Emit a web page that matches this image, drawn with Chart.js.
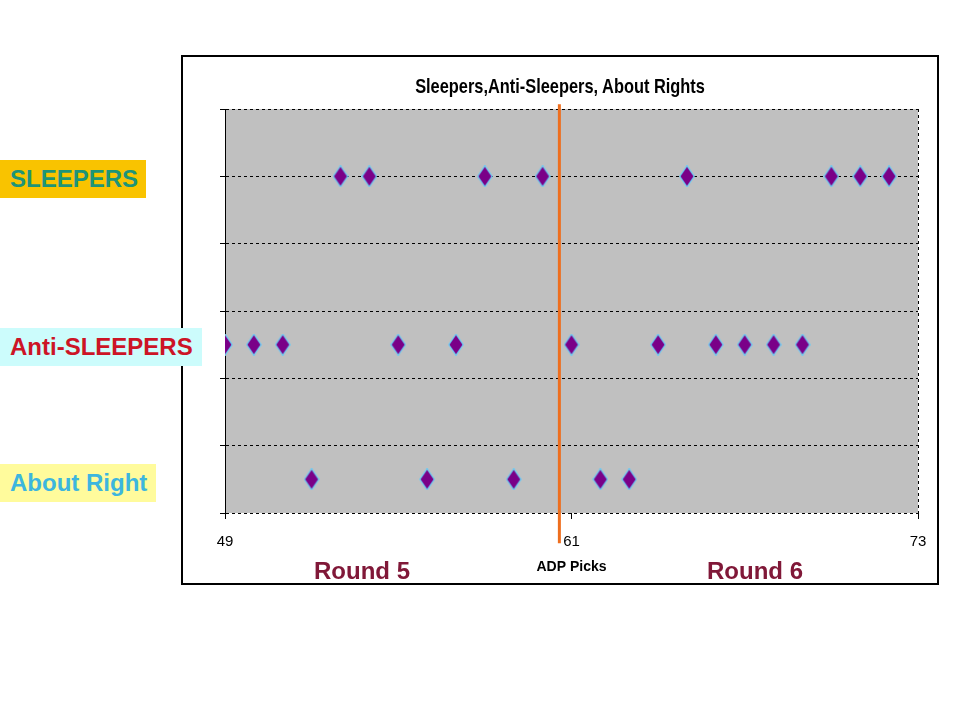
<!DOCTYPE html>
<html lang="en">
<head>
<meta charset="UTF-8">
<title>Sleepers, Anti-Sleepers, About Rights</title>
<script src="https://cdn.jsdelivr.net/npm/chart.js@4.4.1/dist/chart.umd.min.js"></script>
<style>
  body { margin: 0; padding: 0; background: #fff; }
  #wrap { position: relative; width: 960px; height: 720px; overflow: hidden; }
  #box { position: absolute; left: 181px; top: 55px; width: 754px; height: 526px; border: 2px solid #000; background: #fff; }
  #chart { position: absolute; left: 0; top: 0; }
  #title { position: absolute; left: 360px; width: 400px; top: 74px; text-align: center; font-family: "Liberation Sans", Arial, sans-serif; font-weight: bold; font-size: 21px; color: #000; transform: scaleX(0.78); transform-origin: 200px 0; white-space: nowrap; }
  .tag { position: absolute; left: 0; height: 38px; line-height: 38px; font-family: "Liberation Sans", Arial, sans-serif; font-weight: bold; font-size: 24px; padding-left: 10px; box-sizing: border-box; }
  .round { position: absolute; top: 557px; font-family: "Liberation Sans", Arial, sans-serif; font-weight: bold; font-size: 24px; color: #801838; }
</style>
</head>
<body>
<div id="wrap">
  <div id="box"></div>
  <canvas id="chart" width="960" height="720"></canvas>
  <div id="title">Sleepers,Anti-Sleepers, About Rights</div>
  <div class="tag" style="top:160px;width:146px;background:#F9C300;color:#1E9478;">SLEEPERS</div>
  <div class="tag" style="top:328px;width:202px;background:#CCFCFC;color:#CC1426;">Anti-SLEEPERS</div>
  <div class="tag" style="top:464px;width:156px;background:#FFFB9C;color:#3DB6DE;">About Right</div>
  <div class="round" style="left:314px;">Round 5</div>
  <div class="round" style="left:707px;">Round 6</div>
</div>
<script>
  // ADP picks per group
  var sleepers = [53, 54, 58, 60, 65, 70, 71, 72];
  var antiSleepers = [49, 50, 51, 55, 57, 61, 64, 66, 67, 68, 69];
  var aboutRight = [52, 56, 59, 62, 63];
  // row height of each group on the hidden y axis
  var rowSleepers = 5, rowAnti = 2.5, rowAbout = 0.5;
  var xTicks = [49, 61, 73];
  // orange divider between round 5 and round 6
  var dividerX = 60.58;
  var dividerY = [6.07, -0.45];

  function diamond() {
    var c = document.createElement('canvas');
    c.width = 16; c.height = 22;
    var g = c.getContext('2d');
    g.beginPath();
    g.moveTo(8, 1.5); g.lineTo(14.5, 11); g.lineTo(8, 20.5); g.lineTo(1.5, 11); g.closePath();
    g.lineWidth = 2.5;
    g.strokeStyle = '#6FCBF2';
    g.stroke();
    g.fillStyle = '#7A0088';
    g.fill();
    return c;
  }
  var marker = diamond();

  function row(xs, y) {
    return xs.map(function (x) { return { x: x, y: y }; });
  }

  var plotBack = {
    id: 'plotBack',
    beforeDraw: function (chart) {
      var a = chart.chartArea, ctx = chart.ctx;
      ctx.save();
      ctx.fillStyle = '#C0C0C0';
      ctx.fillRect(a.left, a.top, a.right - a.left, a.bottom - a.top);
      ctx.restore();
    },
    afterDatasetsDraw: function (chart) {
      var a = chart.chartArea, ctx = chart.ctx;
      ctx.save();
      ctx.strokeStyle = '#000';
      ctx.lineWidth = 1;
      ctx.setLineDash([3, 3]);
      ctx.beginPath();
      ctx.moveTo(Math.round(a.right) + 0.5, a.top);
      ctx.lineTo(Math.round(a.right) + 0.5, a.bottom);
      ctx.stroke();
      ctx.restore();
    }
  };

  var sans = '"Liberation Sans", Arial, sans-serif';

  var pts = {
    pointStyle: marker,
    pointRadius: 8,
    showLine: false
  };

  new Chart(document.getElementById('chart'), {
    type: 'scatter',
    data: {
      datasets: [
        {
          label: 'Divider',
          data: [{ x: dividerX, y: dividerY[0] }, { x: dividerX, y: dividerY[1] }],
          showLine: true,
          borderColor: '#EE6E1E',
          borderWidth: 3,
          pointRadius: 0,
          clip: false
        },
        Object.assign({ label: 'Sleepers', data: row(sleepers, rowSleepers) }, pts),
        Object.assign({ label: 'Anti-Sleepers', data: row(antiSleepers, rowAnti) }, pts),
        Object.assign({ label: 'About Right', data: row(aboutRight, rowAbout) }, pts)
      ]
    },
    options: {
      responsive: false,
      animation: false,
      layout: { padding: { left: 183, right: 42, top: 109, bottom: 137 } },
      plugins: {
        legend: { display: false },
        tooltip: { enabled: false },
        title: { display: false }
      },
      scales: {
        x: {
          type: 'linear',
          min: 49,
          max: 73,
          afterBuildTicks: function (s) { s.ticks = xTicks.map(function (v) { return { value: v }; }); },
          afterFit: function (s) { s.height = 70; },
          ticks: { color: '#000', padding: 14, font: { family: sans, size: 15 } },
          grid: { drawOnChartArea: false, drawTicks: true, tickLength: 6, color: '#000' },
          border: { display: false },
          title: {
            display: true,
            text: 'ADP Picks',
            color: '#000',
            font: { family: sans, size: 14, weight: 'bold', lineHeight: 1.2 },
            padding: { top: 0, bottom: 7 }
          }
        },
        y: {
          min: 0,
          max: 6,
          ticks: { stepSize: 1, display: false },
          afterFit: function (s) { s.width = 42; },
          grid: { color: '#000', tickLength: 5, tickColor: '#000', tickBorderDash: [] },
          border: { color: '#000', width: 1, dash: [3, 3] }
        }
      }
    },
    plugins: [plotBack]
  });
</script>
</body>
</html>
